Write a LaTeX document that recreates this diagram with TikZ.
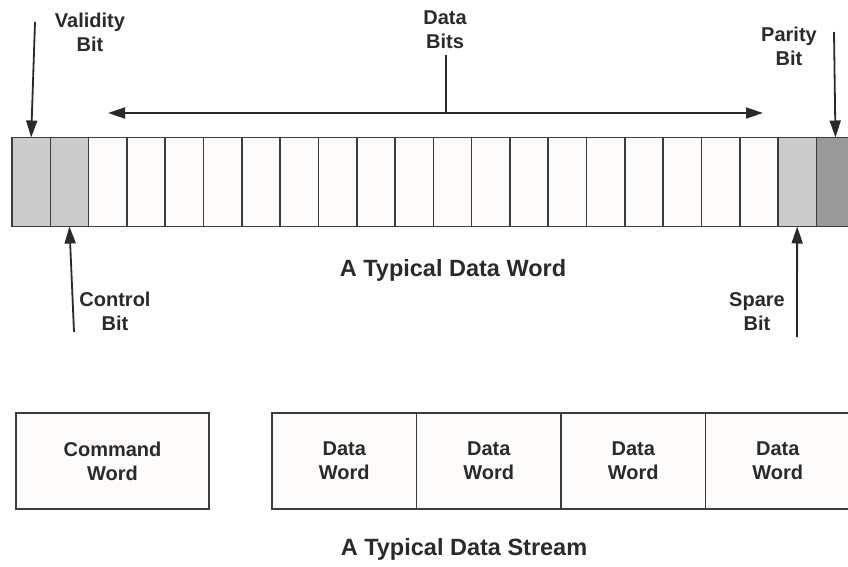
\documentclass[tikz,border=0pt]{standalone}
\usepackage{fontspec}
\setmainfont{Liberation Sans}
\usetikzlibrary{arrows.meta}
\definecolor{edge}{HTML}{3C3C3C}
\definecolor{ink}{HTML}{2A2A2A}
\definecolor{lightbit}{HTML}{CCCCCC}
\definecolor{darkbit}{HTML}{999999}
\definecolor{paper}{HTML}{FEFCFA}
\tikzset{
  x=1pt, y=-1pt,
  bitcell/.style={draw=edge, line width=1.6pt, fill=paper, minimum width=38.3pt, minimum height=89pt, inner sep=0pt, outer sep=0pt},
  wordbox/.style={draw=edge, line width=1.6pt, fill=paper, minimum height=96pt, inner sep=0pt, outer sep=0pt, align=center,
                  font=\bfseries\fontsize{20}{24}\selectfont, text=ink},
  lbl/.style={align=center, inner sep=0pt, font=\bfseries\fontsize{20}{24}\selectfont, text=ink},
  caption/.style={inner sep=0pt, font=\bfseries\fontsize{23.5}{28}\selectfont, text=ink},
  pointer/.style={draw=ink, line width=1.8pt, -{Triangle[length=17pt,width=11pt]}},
  span/.style={draw=ink, line width=1.8pt, {Triangle[length=17pt,width=11pt]}-{Triangle[length=17pt,width=11pt]}},
  plain/.style={draw=ink, line width=1.8pt}
}
\begin{document}
\begin{tikzpicture}
\useasboundingbox (0,0) rectangle (848,567);
% bit cells
\foreach \i in {1,...,22}{
  \node[bitcell] (c\i) at ({12+(\i-0.5)*38.3},182) {};
}
\fill[lightbit] ([xshift=0.8pt,yshift=-0.8pt]c1.north west) rectangle ([xshift=-0.8pt,yshift=0.8pt]c1.south east);
\fill[lightbit] ([xshift=0.8pt,yshift=-0.8pt]c2.north west) rectangle ([xshift=-0.8pt,yshift=0.8pt]c2.south east);
\fill[lightbit] ([xshift=0.8pt,yshift=-0.8pt]c21.north west) rectangle ([xshift=-0.8pt,yshift=0.8pt]c21.south east);
\fill[darkbit] ([xshift=0.8pt,yshift=-0.8pt]c22.north west) rectangle ([xshift=-0.8pt,yshift=0.8pt]c22.south east);

% labels
\node[lbl] (validity) at (90,32.5) {Validity\\Bit};
\node[lbl] (databits) at (445,30) {Data\\Bits};
\node[lbl] (parity) at (789,46) {Parity\\Bit};
\node[lbl] (control) at (115,311) {Control\\Bit};
\node[lbl] (spare) at (757,312) {Spare\\Bit};
\node[caption] (wordcap) at (453,270) {A Typical Data Word};
\node[caption] (streamcap) at (464,549) {A Typical Data Stream};

% arrows
\coordinate (vtail) at (35,22);
\coordinate (ptail) at (834,32);
\coordinate (ctail) at (74,332);
\coordinate (stail) at (797,337);
\coordinate (dl) at (108,113);
\coordinate (dr) at (763,113);
\coordinate (dm) at (446,113);
\coordinate (dtop) at (446,55);
\draw[pointer] (vtail) -- (c1.north);
\draw[pointer] (ptail) -- (c22.north);
\draw[pointer] (ctail) -- (c2.south);
\draw[pointer] (stail) -- (c21.south);
\draw[span] (dl) -- (dr);
\draw[plain] (dtop) -- (dm);

% data stream
\node[wordbox, minimum width=193pt] (cmd) at (112.5,461) {Command\\Word};
\node[wordbox, minimum width=144.5pt] (dw1) at (344.25,461) {Data\\Word};
\node[wordbox, minimum width=144.5pt] (dw2) at (488.75,461) {Data\\Word};
\node[wordbox, minimum width=144.5pt] (dw3) at (633.25,461) {Data\\Word};
\node[wordbox, minimum width=144.5pt] (dw4) at (777.75,461) {Data\\Word};
\end{tikzpicture}
\end{document}
